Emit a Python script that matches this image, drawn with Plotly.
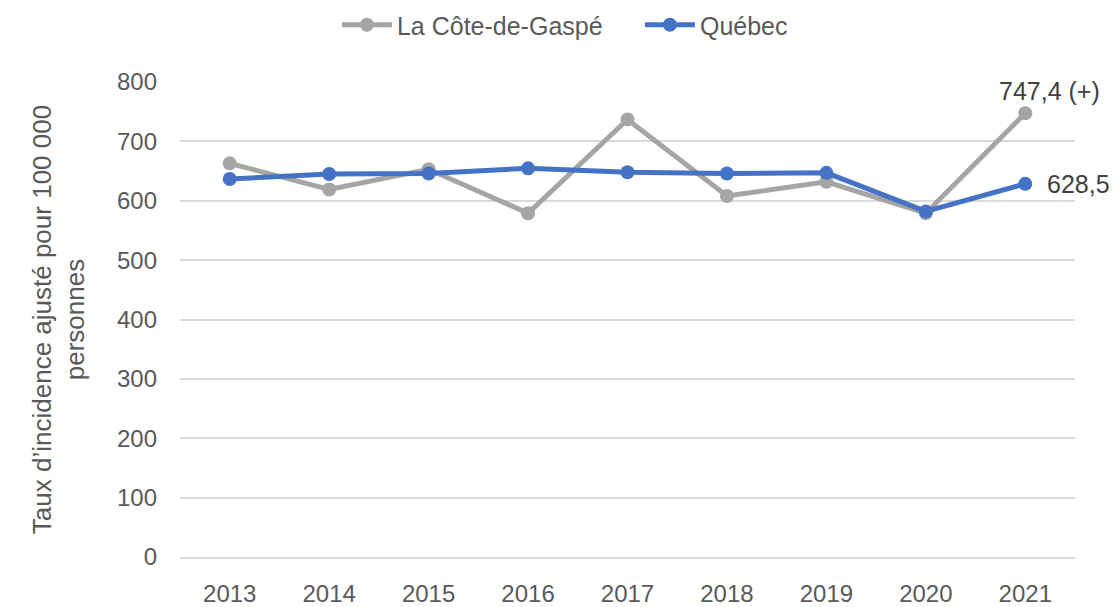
import plotly.graph_objects as go

years = [2013, 2014, 2015, 2016, 2017, 2018, 2019, 2020, 2021]
gaspe = [663, 619, 653, 579, 737, 608, 632, 579, 747.4]
quebec = [636.6, 645, 646, 654.6, 648, 646, 647, 582, 628.5]
y_ticks = [0, 100, 200, 300, 400, 500, 600, 700, 800]

FONT = "Liberation Sans"
TXT = "#595959"
GRAY = "#A5A5A5"
BLUE = "#4472C4"

fig = go.Figure()
fig.add_trace(go.Scatter(
    x=years, y=gaspe, name="La Côte-de-Gaspé", mode="lines+markers",
    line=dict(color=GRAY, width=5), marker=dict(color=GRAY, size=14),
))
fig.add_trace(go.Scatter(
    x=years, y=quebec, name="Québec", mode="lines+markers",
    line=dict(color=BLUE, width=5), marker=dict(color=BLUE, size=14),
))

fig.add_annotation(x=years[-1], y=gaspe[-1], text="747,4 (+)", showarrow=False,
                   xanchor="center", yanchor="bottom", yshift=6, xshift=24,
                   font=dict(family=FONT, size=25, color="#404040"))
fig.add_annotation(x=years[-1], y=quebec[-1], text="628,5", showarrow=False,
                   xanchor="left", yanchor="middle", xshift=20,
                   font=dict(family=FONT, size=25, color="#404040"))

# page body has an 8px default margin, so the figure is sized/offset to compensate
fig.update_layout(
    width=1109, height=599,
    margin=dict(l=172, r=42, t=74, b=50, autoexpand=False),
    paper_bgcolor="white", plot_bgcolor="white",
    font=dict(family=FONT, size=24, color=TXT),
    showlegend=True,
    legend=dict(orientation="h", xref="container", yref="container",
                x=0.2966, xanchor="left", y=0.9716, yanchor="middle",
                font=dict(family=FONT, size=25, color=TXT),
                itemwidth=50, entrywidth=238, tracegroupgap=0),
    xaxis=dict(range=[2012.5, 2021.5], tickvals=years, showgrid=False, showline=True,
               zeroline=False, linecolor="#D9D9D9", linewidth=1.5, ticks="",
               automargin=False, ticklabelstandoff=14,
               tickfont=dict(family=FONT, size=24, color=TXT)),
    yaxis=dict(range=[0, 800], tickvals=y_ticks, showgrid=True,
               gridcolor="#D9D9D9", gridwidth=1.5, zeroline=False,
               showline=False, ticks="", ticklabelstandoff=22, automargin=False,
               tickfont=dict(family=FONT, size=24, color=TXT),
               title=dict(text="Taux d’incidence ajusté pour 100 000<br>personnes",
                          font=dict(family=FONT, size=26, color=TXT), standoff=24)),
)

fig.write_html("out.html")
